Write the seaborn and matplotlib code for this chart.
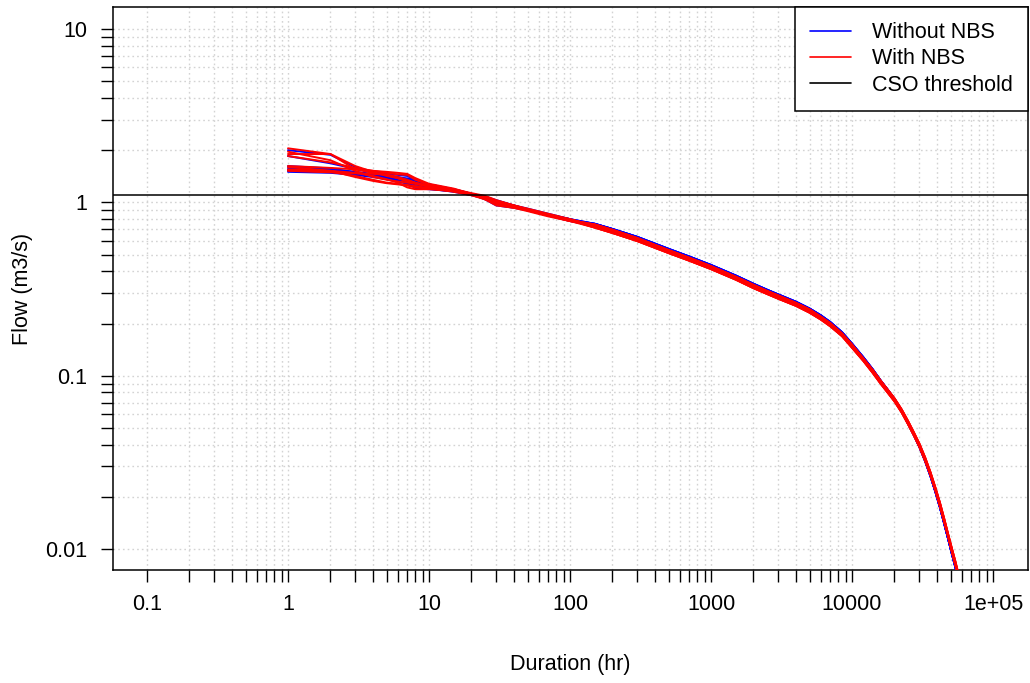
import numpy as np
import pandas as pd
import matplotlib
matplotlib.use("Agg")
import matplotlib.pyplot as plt
from matplotlib.ticker import FixedLocator, FixedFormatter, NullFormatter
from matplotlib.lines import Line2D
import seaborn as sns

# ---------------- data ----------------
head_durations = [1, 2, 3, 4, 5, 6, 7, 8, 10, 15, 20, 25, 30, 40, 50, 70, 100]
tail_durations = [150, 200, 300, 500, 700, 1000, 1500, 2000, 2500, 3000, 4000, 5000,
                  6000, 7000, 8500, 10000, 12000, 14000, 16000, 18000, 20000, 22500,
                  25000, 27500, 30000, 33000, 36000, 39000, 42000, 45000, 48000,
                  51000, 54000, 57000, 60000]

red_heads = [
    [2.05, 1.90, 1.62, 1.50, 1.42, 1.38, 1.33, 1.29, 1.25, 1.18, 1.12, 1.06, 1.00, 0.95, 0.91, 0.85, 0.79],
    [1.90, 1.90, 1.55, 1.48, 1.45, 1.40, 1.35, 1.30, 1.24, 1.17, 1.11, 1.08, 1.02, 0.96, 0.92, 0.86, 0.80],
    [1.85, 1.70, 1.58, 1.52, 1.48, 1.45, 1.44, 1.35, 1.26, 1.19, 1.13, 1.09, 1.03, 0.96, 0.91, 0.85, 0.79],
    [1.62, 1.58, 1.55, 1.52, 1.50, 1.48, 1.46, 1.38, 1.28, 1.20, 1.12, 1.05, 0.97, 0.93, 0.90, 0.84, 0.78],
    [1.60, 1.52, 1.40, 1.33, 1.29, 1.27, 1.25, 1.22, 1.20, 1.16, 1.10, 1.04, 0.99, 0.94, 0.90, 0.84, 0.78],
    [1.55, 1.52, 1.48, 1.42, 1.36, 1.30, 1.22, 1.19, 1.19, 1.16, 1.11, 1.06, 1.01, 0.95, 0.90, 0.84, 0.79],
    [1.53, 1.50, 1.42, 1.35, 1.30, 1.28, 1.26, 1.24, 1.21, 1.15, 1.10, 1.05, 1.00, 0.95, 0.91, 0.85, 0.80],
    [1.52, 1.49, 1.47, 1.46, 1.44, 1.38, 1.32, 1.28, 1.24, 1.17, 1.12, 1.04, 0.96, 0.93, 0.89, 0.83, 0.78],
    [1.96, 1.75, 1.52, 1.40, 1.35, 1.32, 1.30, 1.28, 1.23, 1.17, 1.11, 1.07, 1.02, 0.96, 0.91, 0.85, 0.79],
]
blue_heads = [
    [1.50, 1.48, 1.44, 1.40, 1.36, 1.32, 1.28, 1.24, 1.20, 1.15, 1.10, 1.05, 1.00, 0.95, 0.91, 0.85, 0.80],
    [1.52, 1.50, 1.47, 1.45, 1.40, 1.35, 1.30, 1.27, 1.22, 1.16, 1.11, 1.06, 0.98, 0.94, 0.90, 0.84, 0.79],
    [1.58, 1.55, 1.50, 1.46, 1.43, 1.40, 1.37, 1.33, 1.27, 1.19, 1.12, 1.08, 1.02, 0.96, 0.92, 0.86, 0.80],
    [1.85, 1.68, 1.56, 1.50, 1.46, 1.44, 1.42, 1.34, 1.26, 1.18, 1.12, 1.08, 1.03, 0.96, 0.91, 0.85, 0.80],
    [2.00, 1.88, 1.60, 1.49, 1.42, 1.38, 1.34, 1.30, 1.25, 1.18, 1.12, 1.06, 1.00, 0.95, 0.91, 0.85, 0.79],
    [1.62, 1.57, 1.49, 1.44, 1.41, 1.39, 1.37, 1.35, 1.27, 1.19, 1.12, 1.04, 0.96, 0.93, 0.90, 0.84, 0.78],
    [1.55, 1.51, 1.46, 1.42, 1.38, 1.34, 1.29, 1.21, 1.19, 1.16, 1.11, 1.06, 1.01, 0.95, 0.90, 0.84, 0.79],
]

red_tail_hi = [0.745, 0.694, 0.622, 0.530, 0.479, 0.428, 0.372, 0.334, 0.308, 0.290, 0.263, 0.241,
               0.219, 0.201, 0.175, 0.151, 0.126, 0.108, 0.0933, 0.0826, 0.0740, 0.0638,
               0.0546, 0.0469, 0.0406, 0.0337, 0.0277, 0.0226, 0.0185, 0.0150, 0.0122,
               0.0101, 0.0085, 0.0071, 0.0060]
red_tail_mid = [0.730, 0.680, 0.610, 0.520, 0.470, 0.420, 0.365, 0.327, 0.302, 0.284, 0.258, 0.236,
                0.215, 0.197, 0.172, 0.148, 0.124, 0.106, 0.0915, 0.0810, 0.0725, 0.0625,
                0.0535, 0.0460, 0.0398, 0.0330, 0.0272, 0.0222, 0.0181, 0.0147, 0.0120,
                0.0099, 0.0083, 0.0070, 0.0059]
red_tail_lo = [0.715, 0.666, 0.598, 0.510, 0.461, 0.412, 0.358, 0.320, 0.296, 0.278, 0.253, 0.231,
               0.211, 0.193, 0.169, 0.145, 0.122, 0.104, 0.0897, 0.0794, 0.0711, 0.0613,
               0.0524, 0.0451, 0.0390, 0.0323, 0.0267, 0.0218, 0.0177, 0.0144, 0.0118,
               0.0097, 0.0081, 0.0069, 0.0058]
blue_tail_hi = [0.752, 0.702, 0.632, 0.539, 0.487, 0.435, 0.378, 0.339, 0.313, 0.294, 0.267, 0.244,
                0.223, 0.204, 0.178, 0.153, 0.128, 0.109, 0.0935, 0.0825, 0.0735, 0.0630,
                0.0535, 0.0457, 0.0393, 0.0324, 0.0265, 0.0215, 0.0175, 0.0141, 0.0115,
                0.0095, 0.0079, 0.0067, 0.0056]
blue_tail_lo = [0.730, 0.680, 0.610, 0.520, 0.470, 0.420, 0.365, 0.327, 0.302, 0.284, 0.258, 0.236,
                0.215, 0.197, 0.172, 0.148, 0.124, 0.106, 0.0915, 0.0810, 0.0722, 0.0620,
                0.0528, 0.0452, 0.0389, 0.0321, 0.0263, 0.0214, 0.0174, 0.0141, 0.0115,
                0.0094, 0.0079, 0.0066, 0.0056]

red_tail_choice = ["hi", "mid", "lo", "hi", "mid", "lo", "mid", "lo", "hi"]
blue_tail_choice = ["hi", "lo", "hi", "lo", "hi", "lo", "hi"]

cso_threshold = 1.1

series_names = ["Without NBS", "With NBS", "CSO threshold"]
series_colors = ["blue", "red", "black"]

x_tick_values = [0.1, 1, 10, 100, 1000, 10000, 100000]
x_tick_labels = ["0.1", "1", "10", "100", "1000", "10000", "1e+05"]
y_tick_values = [0.01, 0.1, 1, 10]
y_tick_labels = ["0.01", "0.1", "1", "10"]
x_minor_decades = [0.1, 1, 10, 100, 1000, 10000]
y_minor_decades = [0.01, 0.1, 1]
minor_multiples = [2, 3, 4, 5, 6, 7, 8, 9]

# ---------------- build long table ----------------
tails = {"With NBS": {"hi": red_tail_hi, "mid": red_tail_mid, "lo": red_tail_lo},
         "Without NBS": {"hi": blue_tail_hi, "lo": blue_tail_lo}}
rows = []
for scen, heads, choice in [("Without NBS", blue_heads, blue_tail_choice),
                            ("With NBS", red_heads, red_tail_choice)]:
    for i, (h, c) in enumerate(zip(heads, choice)):
        xs = head_durations + tail_durations
        ys = h + tails[scen][c]
        for x, y in zip(xs, ys):
            rows.append({"duration": x, "flow": y, "scenario": scen, "curve": f"{scen}-{i}"})
df = pd.DataFrame(rows)

# ---------------- plot ----------------
sns.set_style("ticks")
plt.rcParams["font.family"] = ["Liberation Sans", "DejaVu Sans"]
plt.rcParams["text.color"] = "black"
plt.rcParams["axes.labelcolor"] = "black"
FS = 15.5

fig = plt.figure(figsize=(10.30, 6.83), dpi=100)
ax = fig.add_axes([113 / 1030, 1 - 570 / 683, (1028 - 113) / 1030, (570 - 7) / 683])
ax.set_xscale("log")
ax.set_yscale("log")

palette = dict(zip(series_names, series_colors))
for scen in ["Without NBS", "With NBS"]:
    sns.lineplot(data=df[df["scenario"] == scen], x="duration", y="flow", units="curve",
                 estimator=None, sort=False, color=palette[scen], linewidth=1.4,
                 legend=False, ax=ax, zorder=3)

ax.axhline(cso_threshold, color="black", linewidth=1.1, zorder=4)

ax.set_xlim(10 ** -1.241, 10 ** 5.248)
ax.set_ylim(10 ** -2.121, 10 ** 1.127)

x_minor = [d * m for d in x_minor_decades for m in minor_multiples]
y_minor = [d * m for d in y_minor_decades for m in minor_multiples]
ax.xaxis.set_major_locator(FixedLocator(x_tick_values))
ax.xaxis.set_major_formatter(FixedFormatter(x_tick_labels))
ax.yaxis.set_major_locator(FixedLocator(y_tick_values))
ax.yaxis.set_major_formatter(FixedFormatter(y_tick_labels))
ax.xaxis.set_minor_locator(FixedLocator(x_minor))
ax.yaxis.set_minor_locator(FixedLocator(y_minor))
ax.xaxis.set_minor_formatter(NullFormatter())
ax.yaxis.set_minor_formatter(NullFormatter())

ax.tick_params(which="both", direction="out", length=8.5, width=1.0, color="black",
               labelsize=FS, labelcolor="black")
ax.tick_params(axis="x", which="major", pad=9)
ax.tick_params(axis="y", which="major", pad=10)

ax.grid(True, which="both", color="#d3d3d3", linestyle=(0, (1.2, 2.2)), linewidth=1.0, zorder=0)
ax.set_axisbelow(True)

for sp in ax.spines.values():
    sp.set_visible(True)
    sp.set_color("black")
    sp.set_linewidth(1.1)

ax.set_xlabel("Duration (hr)", fontsize=FS, labelpad=28, color="black")
ax.set_ylabel("Flow (m3/s)", fontsize=FS, labelpad=9, color="black")

handles = [Line2D([], [], color=c, linewidth=1.2) for c in series_colors]
leg = ax.legend(handles, series_names, loc="upper right", bbox_to_anchor=(1.0, 1.0),
                fontsize=FS, frameon=True, fancybox=False, framealpha=1.0,
                edgecolor="black", borderpad=0.7, labelspacing=0.25,
                handlelength=1.9, handletextpad=1.0, borderaxespad=0.0,
                labelcolor="black")
leg.get_frame().set_linewidth(1.1)
leg.set_zorder(10)

fig.savefig("out.png", dpi=100)
